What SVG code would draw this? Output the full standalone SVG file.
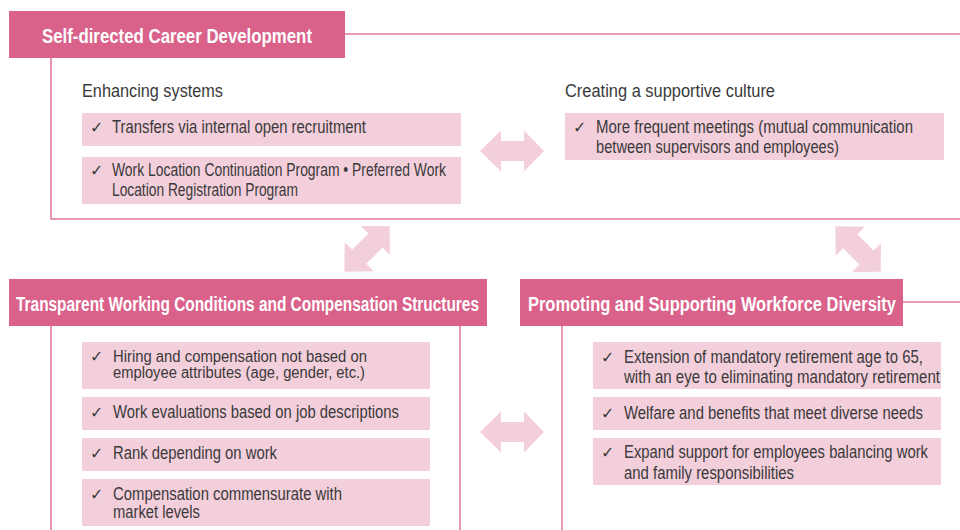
<svg xmlns="http://www.w3.org/2000/svg" width="960" height="530" viewBox="0 0 960 530">
<style>
.hdr{fill:#d9618a}
.ttl{font-family:"Liberation Sans",Arial,sans-serif;font-weight:bold;font-size:20px;fill:#ffffff}
.box{fill:#f3cfdb}
.txt{font-family:"Liberation Sans",Arial,sans-serif;font-size:17.5px;fill:#3a3a3a}
.sm{font-size:16px}
.chk{font-family:"DejaVu Sans",sans-serif;font-size:16px;fill:#3a3a3a}
.ln{fill:none;stroke:#e0769a;stroke-width:1.5}
.arr{fill:#f3cfdb}
</style>
<defs>
<path id="dbl" d="M-32,0 L-11,-20.5 L-11,-10 L12,-10 L12,-20.5 L32,0 L12,20.5 L12,10 L-11,10 L-11,20.5 Z"/>
</defs>
<rect width="960" height="530" fill="#ffffff"/>

<g id="connectors">
<path class="ln" d="M345,34 H960"/>
<path class="ln" d="M51,58 V219 H960"/>
<path class="ln" d="M51,326 V530"/>
<path class="ln" d="M460,326 V530"/>
<path class="ln" d="M562,326 V530"/>
<path class="ln" d="M903,302 H960"/>
<use href="#dbl" class="arr" transform="translate(512,151)"/>
<use href="#dbl" class="arr" transform="translate(512,432)"/>
<use href="#dbl" class="arr" transform="translate(367,249) rotate(-45)"/>
<use href="#dbl" class="arr" transform="translate(858,249) rotate(45)"/>
</g>

<g id="career">
<rect class="hdr" x="9" y="11" width="336" height="47"/>
<text class="ttl" x="42" y="43" textLength="270" lengthAdjust="spacingAndGlyphs">Self-directed Career Development</text>
</g>

<g id="enhancing">
<text class="txt" x="82" y="97" textLength="141" lengthAdjust="spacingAndGlyphs">Enhancing systems</text>
<rect class="box" x="82" y="113" width="379" height="33"/>
<text class="chk" x="90" y="133">✓</text>
<text class="txt" x="112" y="133" textLength="254" lengthAdjust="spacingAndGlyphs">Transfers via internal open recruitment</text>
<rect class="box" x="82" y="157" width="379" height="47"/>
<text class="chk" x="90" y="176">✓</text>
<text class="txt" x="112" y="176" textLength="334" lengthAdjust="spacingAndGlyphs">Work Location Continuation Program • Preferred Work</text>
<text class="txt" x="112" y="196" textLength="186" lengthAdjust="spacingAndGlyphs">Location Registration Program</text>
</g>

<g id="culture">
<text class="txt" x="565" y="97" textLength="210" lengthAdjust="spacingAndGlyphs">Creating a supportive culture</text>
<rect class="box" x="565" y="113" width="379" height="47"/>
<text class="chk" x="573" y="133">✓</text>
<text class="txt" x="596" y="133" textLength="317" lengthAdjust="spacingAndGlyphs">More frequent meetings (mutual communication</text>
<text class="txt" x="596" y="153" textLength="243" lengthAdjust="spacingAndGlyphs">between supervisors and employees)</text>
</g>

<g id="transparent">
<rect class="hdr" x="9" y="279" width="478" height="47"/>
<text class="ttl" x="16" y="311" textLength="463" lengthAdjust="spacingAndGlyphs">Transparent Working Conditions and Compensation Structures</text>
<rect class="box" x="82" y="342" width="348" height="47"/>
<text class="chk" x="90" y="362">✓</text>
<text class="txt sm" x="113" y="362" textLength="254" lengthAdjust="spacingAndGlyphs">Hiring and compensation not based on</text>
<text class="txt sm" x="113" y="378" textLength="252" lengthAdjust="spacingAndGlyphs">employee attributes (age, gender, etc.)</text>
<rect class="box" x="82" y="397" width="348" height="33"/>
<text class="chk" x="90" y="418">✓</text>
<text class="txt" x="113" y="418" textLength="286" lengthAdjust="spacingAndGlyphs">Work evaluations based on job descriptions</text>
<rect class="box" x="82" y="438" width="348" height="33"/>
<text class="chk" x="90" y="459">✓</text>
<text class="txt" x="113" y="459" textLength="164" lengthAdjust="spacingAndGlyphs">Rank depending on work</text>
<rect class="box" x="82" y="479" width="348" height="47"/>
<text class="chk" x="90" y="500">✓</text>
<text class="txt" x="113" y="500" textLength="229" lengthAdjust="spacingAndGlyphs">Compensation commensurate with</text>
<text class="txt" x="113" y="518" textLength="87" lengthAdjust="spacingAndGlyphs">market levels</text>
</g>

<g id="diversity">
<rect class="hdr" x="520" y="279" width="383" height="47"/>
<text class="ttl" x="528" y="311" textLength="368" lengthAdjust="spacingAndGlyphs">Promoting and Supporting Workforce Diversity</text>
<rect class="box" x="593" y="342" width="348" height="47"/>
<text class="chk" x="601" y="363">✓</text>
<text class="txt" x="624" y="363" textLength="299" lengthAdjust="spacingAndGlyphs">Extension of mandatory retirement age to 65,</text>
<text class="txt" x="624" y="383" textLength="316" lengthAdjust="spacingAndGlyphs">with an eye to eliminating mandatory retirement</text>
<rect class="box" x="593" y="397" width="348" height="33"/>
<text class="chk" x="601" y="419">✓</text>
<text class="txt" x="624" y="419" textLength="299" lengthAdjust="spacingAndGlyphs">Welfare and benefits that meet diverse needs</text>
<rect class="box" x="593" y="438" width="348" height="47"/>
<text class="chk" x="601" y="458">✓</text>
<text class="txt" x="624" y="458" textLength="304" lengthAdjust="spacingAndGlyphs">Expand support for employees balancing work</text>
<text class="txt" x="624" y="479" textLength="170" lengthAdjust="spacingAndGlyphs">and family responsibilities</text>
</g>
</svg>
